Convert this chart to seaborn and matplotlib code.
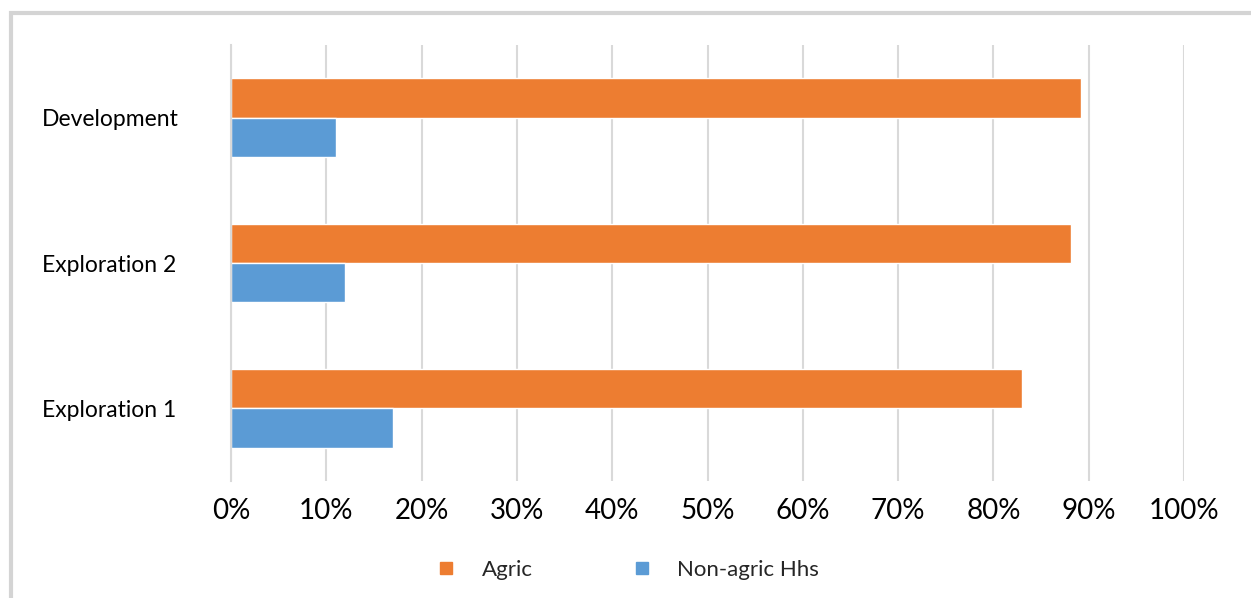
import pandas as pd
import numpy as np
import matplotlib.pyplot as plt
import matplotlib as mpl
from matplotlib.patches import Rectangle
from matplotlib.lines import Line2D
import seaborn as sns

# data
stages = ["Development", "Exploration 2", "Exploration 1"]
agric = [89.2, 88.1, 83.0]
non_agric = [11.0, 12.0, 17.0]
groups = ["Agric", "Non-agric Hhs"]
colors = ["#ED7D31", "#5B9BD5"]

df = pd.DataFrame({
    "stage": stages * 2,
    "share": agric + non_agric,
    "group": [groups[0]] * len(stages) + [groups[1]] * len(stages),
})

sns.set_theme(style="white")
plt.rcParams['font.family'] = ['Lato', 'DejaVu Sans']

fig = plt.figure(figsize=(12.51, 5.98), dpi=100)
ax = fig.add_axes([231 / 1251, 1 - 481 / 598, (1184 - 231) / 1251, (481 - 45) / 598])

sns.barplot(data=df, x="share", y="stage", hue="group", order=stages,
            hue_order=groups, palette=colors, orient="h", width=0.54,
            saturation=1, ax=ax, legend=False)

ax.set_xlim(0, 100)
ax.set_ylim(2.5, -0.5)
ax.set_xticks(np.arange(0, 101, 10))
ax.set_xticklabels([f"{t}%" for t in range(0, 101, 10)], fontsize=20, color="black")
ax.tick_params(axis="x", length=0, pad=12)
# left-aligned category labels starting near x=42px
ax.tick_params(axis="y", length=0, pad=(231 - 42) * 0.72, labelsize=16.5, labelcolor="black")
for lbl in ax.get_yticklabels():
    lbl.set_horizontalalignment("left")
    lbl.set_y(lbl.get_position()[1])
ax.set_xlabel("")
ax.set_ylabel("")
ax.xaxis.grid(True, color="#d9d9d9", linewidth=1.5)
ax.set_axisbelow(True)
for s in ["top", "right", "bottom"]:
    ax.spines[s].set_visible(False)
ax.spines["left"].set_color("#d9d9d9")
ax.spines["left"].set_linewidth(1.5)

# legend
handles = [Line2D([], [], marker="s", linestyle="", markersize=8, color=c) for c in colors]
fig.legend(handles, groups, loc="center", bbox_to_anchor=(0.497, 1 - 570 / 598),
           ncol=2, frameon=False, fontsize=16, columnspacing=3.9, handletextpad=0.6)

# outer frame
fig.patches.append(Rectangle((11 / 1251, -0.05), 1.1, 1 - 13 / 598 + 0.05,
                             transform=fig.transFigure, fill=False,
                             edgecolor="#d4d4d4", linewidth=3))

fig.savefig("out.png", dpi=100)
